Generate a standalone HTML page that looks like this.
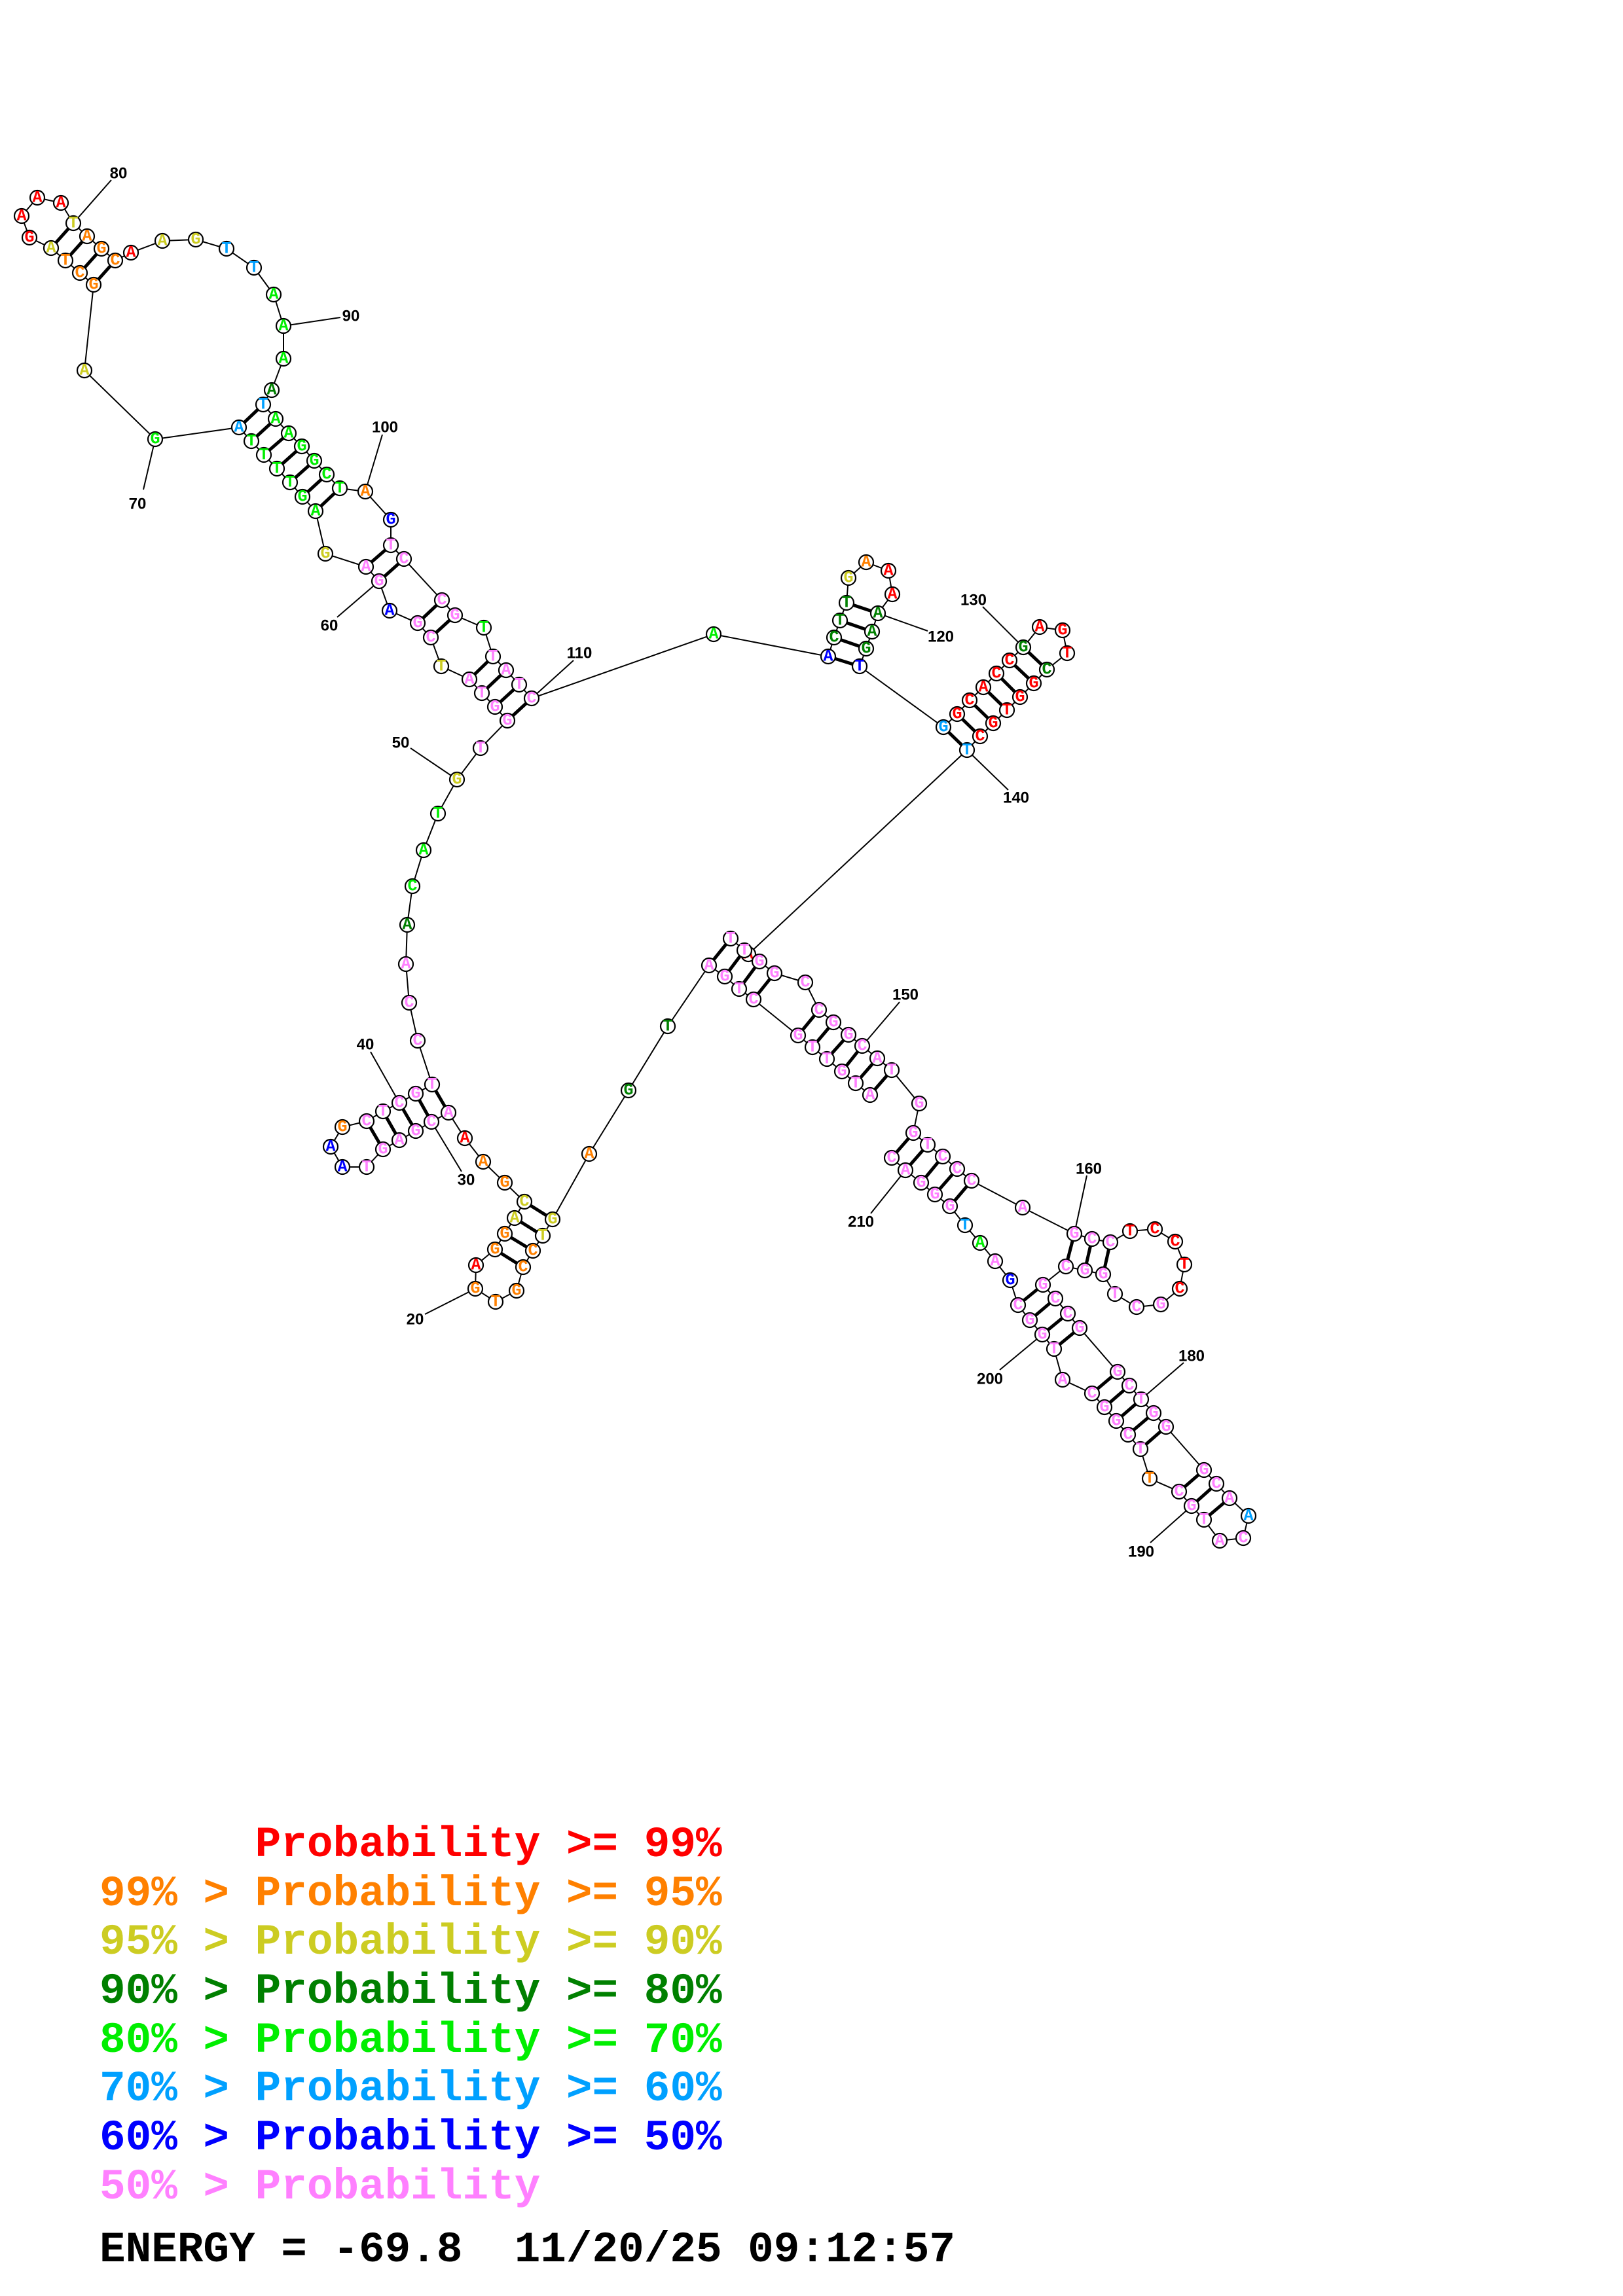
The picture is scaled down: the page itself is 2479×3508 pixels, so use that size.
<!DOCTYPE html>
<html><head><meta charset="utf-8"><style>
html,body{margin:0;padding:0;background:#fff}
svg{display:block}
.bb{fill:none;stroke:#000;stroke-width:2}
.pr line{stroke:#000;stroke-width:5}
.tk line{stroke:#000;stroke-width:2}
circle{fill:#fff;stroke:#000;stroke-width:2.2}
.n circle{r:11px}
.n text{font-family:"Liberation Mono",monospace;font-weight:bold;font-size:25px;text-anchor:middle;dominant-baseline:central}
.lb{font-family:"Liberation Sans",sans-serif;font-weight:bold;font-size:24px;text-anchor:middle;dominant-baseline:central;fill:#000}
.r{fill:#ff0000}.o{fill:#ff8000}.y{fill:#cccc22}.d{fill:#008000}.g{fill:#00ee00}.c{fill:#00a0ff}.b{fill:#0000ff}.p{fill:#ff80ff}
.lg text{font-family:"Liberation Mono",monospace;font-weight:bold;font-size:66px;white-space:pre}
</style></head><body>
<svg width="2479" height="3508" viewBox="0 0 2479 3508" xmlns="http://www.w3.org/2000/svg">
<polyline class="bb" points="1329,1673 1307,1655 1286,1637 1263,1618 1241,1600 1219,1582 1151,1527 1129,1511 1107,1492 1083,1475 1020,1568 960,1666 900,1763 844,1863 829,1888 814,1911 799,1936 789,1972 757,1989 726,1969 727,1933 756,1909 771,1885 786,1861 801,1836 771,1807 738,1775 710,1739 685,1700 659,1714 635,1728 610,1742 585,1756 560,1783 523,1783 505,1752 523,1722 560,1713 585,1698 610,1685 635,1671 660,1657 638,1590 625,1532 620,1473 622,1413 630,1354 647,1299 669,1243 698,1191 734,1143 775,1101 756,1080 736,1059 717,1038 674,1018 658,974 638,952 595,933 579,888 559,866 497,846 482,781 462,759 443,737 423,716 403,695 384,674 365,653 237,671 129,566 143,435 122,417 100,398 78,379 45,363 33,330 57,302 93,310 112,341 133,361 155,380 176,398 200,386 248,368 299,366 346,380 388,409 418,450 433,498 433,548 415,596 402,618 421,640 441,662 461,682 480,704 499,725 519,746 558,751 597,794 597,833 617,854 675,917 695,940 739,959 753,1003 773,1024 793,1046 812,1067 1090,969 1265,1003 1274,974 1283,948 1293,921 1296,883 1323,859 1357,872 1363,908 1341,937 1332,965 1323,991 1313,1018 1441,1111 1462,1091 1481,1070 1502,1050 1522,1029 1542,1009 1563,989 1588,958 1623,963 1630,998 1599,1023 1579,1044 1558,1065 1538,1085 1517,1105 1497,1125 1477,1146 1143,1458 1160,1469 1183,1487 1230,1501 1251,1543 1273,1562 1296,1581 1317,1598 1340,1617 1362,1635 1404,1686 1395,1731 1417,1749 1440,1767 1462,1786 1484,1804 1562,1845 1641,1885 1668,1893 1696,1898 1726,1881 1764,1878 1795,1897 1809,1932 1802,1969 1773,1993 1736,1997 1703,1977 1685,1947 1657,1941 1628,1935 1593,1963 1612,1984 1631,2007 1649,2029 1707,2096 1725,2117 1743,2138 1762,2159 1781,2180 1839,2246 1858,2267 1878,2289 1907,2316 1899,2350 1863,2354 1839,2322 1820,2301 1801,2279 1756,2259 1742,2214 1723,2192 1705,2171 1687,2150 1668,2129 1623,2108 1610,2061 1592,2039 1573,2017 1555,1994 1543,1956 1520,1927 1497,1899 1474,1872 1451,1843 1428,1825 1407,1807 1383,1788 1362,1769"/>
<polyline class="bb" points="1116,1434 1137,1452 1160,1469"/>
<g class="pr">
<line x1="1116" y1="1434" x2="1083" y2="1475"/><line x1="1137" y1="1452" x2="1107" y2="1492"/><line x1="1160" y1="1469" x2="1129" y2="1511"/><line x1="1183" y1="1487" x2="1151" y2="1527"/>
<line x1="1251" y1="1543" x2="1219" y2="1582"/><line x1="1273" y1="1562" x2="1241" y2="1600"/><line x1="1296" y1="1581" x2="1263" y2="1618"/><line x1="1317" y1="1598" x2="1286" y2="1637"/><line x1="1340" y1="1617" x2="1307" y2="1655"/><line x1="1362" y1="1635" x2="1329" y2="1673"/>
<line x1="1395" y1="1731" x2="1362" y2="1769"/><line x1="1417" y1="1749" x2="1383" y2="1788"/><line x1="1440" y1="1767" x2="1407" y2="1807"/><line x1="1462" y1="1786" x2="1428" y2="1825"/><line x1="1484" y1="1804" x2="1451" y2="1843"/>
<line x1="1641" y1="1885" x2="1628" y2="1935"/><line x1="1668" y1="1893" x2="1657" y2="1941"/><line x1="1696" y1="1898" x2="1685" y2="1947"/>
<line x1="1593" y1="1963" x2="1555" y2="1994"/><line x1="1612" y1="1984" x2="1573" y2="2017"/><line x1="1631" y1="2007" x2="1592" y2="2039"/><line x1="1649" y1="2029" x2="1610" y2="2061"/>
<line x1="1707" y1="2096" x2="1668" y2="2129"/><line x1="1725" y1="2117" x2="1687" y2="2150"/><line x1="1743" y1="2138" x2="1705" y2="2171"/><line x1="1762" y1="2159" x2="1723" y2="2192"/><line x1="1781" y1="2180" x2="1742" y2="2214"/>
<line x1="1839" y1="2246" x2="1801" y2="2279"/><line x1="1858" y1="2267" x2="1820" y2="2301"/><line x1="1878" y1="2289" x2="1839" y2="2322"/>
<line x1="660" y1="1657" x2="685" y2="1700"/><line x1="635" y1="1671" x2="659" y2="1714"/><line x1="610" y1="1685" x2="635" y2="1728"/><line x1="585" y1="1698" x2="610" y2="1742"/><line x1="560" y1="1713" x2="585" y2="1756"/>
<line x1="801" y1="1836" x2="844" y2="1863"/><line x1="786" y1="1861" x2="829" y2="1888"/><line x1="771" y1="1885" x2="814" y2="1911"/><line x1="756" y1="1909" x2="799" y2="1936"/>
<line x1="753" y1="1003" x2="717" y2="1038"/><line x1="773" y1="1024" x2="736" y2="1059"/><line x1="793" y1="1046" x2="756" y2="1080"/><line x1="812" y1="1067" x2="775" y2="1101"/>
<line x1="675" y1="917" x2="638" y2="952"/><line x1="695" y1="940" x2="658" y2="974"/>
<line x1="597" y1="833" x2="559" y2="866"/><line x1="617" y1="854" x2="579" y2="888"/>
<line x1="421" y1="640" x2="384" y2="674"/><line x1="441" y1="662" x2="403" y2="695"/><line x1="461" y1="682" x2="423" y2="716"/><line x1="480" y1="704" x2="443" y2="737"/><line x1="499" y1="725" x2="462" y2="759"/><line x1="519" y1="746" x2="482" y2="781"/>
<line x1="402" y1="618" x2="365" y2="653"/>
<line x1="78" y1="379" x2="112" y2="341"/><line x1="100" y1="398" x2="133" y2="361"/><line x1="122" y1="417" x2="155" y2="380"/><line x1="143" y1="435" x2="176" y2="398"/>
<line x1="1265" y1="1003" x2="1313" y2="1018"/><line x1="1274" y1="974" x2="1323" y2="991"/><line x1="1283" y1="948" x2="1332" y2="965"/><line x1="1293" y1="921" x2="1341" y2="937"/>
<line x1="1441" y1="1111" x2="1477" y2="1146"/><line x1="1462" y1="1091" x2="1497" y2="1125"/><line x1="1481" y1="1070" x2="1517" y2="1105"/><line x1="1502" y1="1050" x2="1538" y2="1085"/><line x1="1522" y1="1029" x2="1558" y2="1065"/><line x1="1542" y1="1009" x2="1579" y2="1044"/><line x1="1563" y1="989" x2="1599" y2="1023"/>
</g>
<g class="tk">
<line x1="112" y1="341" x2="170" y2="275"/><line x1="433" y1="498" x2="520" y2="485"/><line x1="558" y1="751" x2="584" y2="664"/><line x1="237" y1="671" x2="219" y2="748"/>
<line x1="579" y1="888" x2="515" y2="943"/><line x1="812" y1="1067" x2="876" y2="1009"/><line x1="1341" y1="937" x2="1417" y2="964"/><line x1="1563" y1="989" x2="1501" y2="927"/>
<line x1="1477" y1="1146" x2="1540" y2="1207"/><line x1="1317" y1="1598" x2="1374" y2="1531"/><line x1="1641" y1="1885" x2="1660" y2="1796"/><line x1="1743" y1="2138" x2="1808" y2="2082"/>
<line x1="1820" y1="2301" x2="1757" y2="2357"/><line x1="1592" y1="2039" x2="1527" y2="2093"/><line x1="1383" y1="1788" x2="1330" y2="1854"/><line x1="610" y1="1685" x2="566" y2="1607"/>
<line x1="659" y1="1714" x2="705" y2="1790"/><line x1="726" y1="1969" x2="649" y2="2008"/><line x1="698" y1="1191" x2="627" y2="1143"/>
</g>
<text class="lb" x="181" y="265">80</text><text class="lb" x="536" y="483">90</text><text class="lb" x="588" y="653">100</text><text class="lb" x="210" y="770">70</text>
<text class="lb" x="503" y="956">60</text><text class="lb" x="885" y="998">110</text><text class="lb" x="1437" y="973">120</text><text class="lb" x="1487" y="917">130</text>
<text class="lb" x="1552" y="1219">140</text><text class="lb" x="1383" y="1520">150</text><text class="lb" x="1663" y="1786">160</text><text class="lb" x="1820" y="2072">180</text>
<text class="lb" x="1743" y="2371">190</text><text class="lb" x="1512" y="2107">200</text><text class="lb" x="1315" y="1867">210</text><text class="lb" x="558" y="1596">40</text>
<text class="lb" x="712" y="1803">30</text><text class="lb" x="634" y="2016">20</text><text class="lb" x="612" y="1135">50</text>
<g class="n">
<circle cx="1143" cy="1458" r="11"/><text x="1143" y="1458" class="r">A</text>
<circle cx="1329" cy="1673" r="11"/><text x="1329" y="1673" class="p">A</text>
<circle cx="1307" cy="1655" r="11"/><text x="1307" y="1655" class="p">T</text>
<circle cx="1286" cy="1637" r="11"/><text x="1286" y="1637" class="p">G</text>
<circle cx="1263" cy="1618" r="11"/><text x="1263" y="1618" class="p">T</text>
<circle cx="1241" cy="1600" r="11"/><text x="1241" y="1600" class="p">T</text>
<circle cx="1219" cy="1582" r="11"/><text x="1219" y="1582" class="p">G</text>
<circle cx="1151" cy="1527" r="11"/><text x="1151" y="1527" class="p">C</text>
<circle cx="1129" cy="1511" r="11"/><text x="1129" y="1511" class="p">T</text>
<circle cx="1107" cy="1492" r="11"/><text x="1107" y="1492" class="p">G</text>
<circle cx="1083" cy="1475" r="11"/><text x="1083" y="1475" class="p">A</text>
<circle cx="1020" cy="1568" r="11"/><text x="1020" y="1568" class="d">T</text>
<circle cx="960" cy="1666" r="11"/><text x="960" y="1666" class="d">G</text>
<circle cx="900" cy="1763" r="11"/><text x="900" y="1763" class="o">A</text>
<circle cx="844" cy="1863" r="11"/><text x="844" y="1863" class="y">G</text>
<circle cx="829" cy="1888" r="11"/><text x="829" y="1888" class="y">T</text>
<circle cx="814" cy="1911" r="11"/><text x="814" y="1911" class="o">C</text>
<circle cx="799" cy="1936" r="11"/><text x="799" y="1936" class="o">C</text>
<circle cx="789" cy="1972" r="11"/><text x="789" y="1972" class="o">G</text>
<circle cx="757" cy="1989" r="11"/><text x="757" y="1989" class="o">T</text>
<circle cx="726" cy="1969" r="11"/><text x="726" y="1969" class="o">G</text>
<circle cx="727" cy="1933" r="11"/><text x="727" y="1933" class="r">A</text>
<circle cx="756" cy="1909" r="11"/><text x="756" y="1909" class="o">G</text>
<circle cx="771" cy="1885" r="11"/><text x="771" y="1885" class="o">G</text>
<circle cx="786" cy="1861" r="11"/><text x="786" y="1861" class="y">A</text>
<circle cx="801" cy="1836" r="11"/><text x="801" y="1836" class="y">C</text>
<circle cx="771" cy="1807" r="11"/><text x="771" y="1807" class="o">G</text>
<circle cx="738" cy="1775" r="11"/><text x="738" y="1775" class="o">A</text>
<circle cx="710" cy="1739" r="11"/><text x="710" y="1739" class="r">A</text>
<circle cx="685" cy="1700" r="11"/><text x="685" y="1700" class="p">A</text>
<circle cx="659" cy="1714" r="11"/><text x="659" y="1714" class="p">C</text>
<circle cx="635" cy="1728" r="11"/><text x="635" y="1728" class="p">G</text>
<circle cx="610" cy="1742" r="11"/><text x="610" y="1742" class="p">A</text>
<circle cx="585" cy="1756" r="11"/><text x="585" y="1756" class="p">G</text>
<circle cx="560" cy="1783" r="11"/><text x="560" y="1783" class="p">T</text>
<circle cx="523" cy="1783" r="11"/><text x="523" y="1783" class="b">A</text>
<circle cx="505" cy="1752" r="11"/><text x="505" y="1752" class="b">A</text>
<circle cx="523" cy="1722" r="11"/><text x="523" y="1722" class="o">G</text>
<circle cx="560" cy="1713" r="11"/><text x="560" y="1713" class="p">C</text>
<circle cx="585" cy="1698" r="11"/><text x="585" y="1698" class="p">T</text>
<circle cx="610" cy="1685" r="11"/><text x="610" y="1685" class="p">C</text>
<circle cx="635" cy="1671" r="11"/><text x="635" y="1671" class="p">G</text>
<circle cx="660" cy="1657" r="11"/><text x="660" y="1657" class="p">T</text>
<circle cx="638" cy="1590" r="11"/><text x="638" y="1590" class="p">C</text>
<circle cx="625" cy="1532" r="11"/><text x="625" y="1532" class="p">C</text>
<circle cx="620" cy="1473" r="11"/><text x="620" y="1473" class="p">A</text>
<circle cx="622" cy="1413" r="11"/><text x="622" y="1413" class="d">A</text>
<circle cx="630" cy="1354" r="11"/><text x="630" y="1354" class="g">C</text>
<circle cx="647" cy="1299" r="11"/><text x="647" y="1299" class="g">A</text>
<circle cx="669" cy="1243" r="11"/><text x="669" y="1243" class="g">T</text>
<circle cx="698" cy="1191" r="11"/><text x="698" y="1191" class="y">G</text>
<circle cx="734" cy="1143" r="11"/><text x="734" y="1143" class="p">T</text>
<circle cx="775" cy="1101" r="11"/><text x="775" y="1101" class="p">G</text>
<circle cx="756" cy="1080" r="11"/><text x="756" y="1080" class="p">G</text>
<circle cx="736" cy="1059" r="11"/><text x="736" y="1059" class="p">T</text>
<circle cx="717" cy="1038" r="11"/><text x="717" y="1038" class="p">A</text>
<circle cx="674" cy="1018" r="11"/><text x="674" y="1018" class="y">T</text>
<circle cx="658" cy="974" r="11"/><text x="658" y="974" class="p">C</text>
<circle cx="638" cy="952" r="11"/><text x="638" y="952" class="p">G</text>
<circle cx="595" cy="933" r="11"/><text x="595" y="933" class="b">A</text>
<circle cx="579" cy="888" r="11"/><text x="579" y="888" class="p">G</text>
<circle cx="559" cy="866" r="11"/><text x="559" y="866" class="p">A</text>
<circle cx="497" cy="846" r="11"/><text x="497" y="846" class="y">G</text>
<circle cx="482" cy="781" r="11"/><text x="482" y="781" class="g">A</text>
<circle cx="462" cy="759" r="11"/><text x="462" y="759" class="g">G</text>
<circle cx="443" cy="737" r="11"/><text x="443" y="737" class="g">T</text>
<circle cx="423" cy="716" r="11"/><text x="423" y="716" class="g">T</text>
<circle cx="403" cy="695" r="11"/><text x="403" y="695" class="g">T</text>
<circle cx="384" cy="674" r="11"/><text x="384" y="674" class="g">T</text>
<circle cx="365" cy="653" r="11"/><text x="365" y="653" class="c">A</text>
<circle cx="237" cy="671" r="11"/><text x="237" y="671" class="g">G</text>
<circle cx="129" cy="566" r="11"/><text x="129" y="566" class="y">A</text>
<circle cx="143" cy="435" r="11"/><text x="143" y="435" class="o">G</text>
<circle cx="122" cy="417" r="11"/><text x="122" y="417" class="o">C</text>
<circle cx="100" cy="398" r="11"/><text x="100" y="398" class="o">T</text>
<circle cx="78" cy="379" r="11"/><text x="78" y="379" class="y">A</text>
<circle cx="45" cy="363" r="11"/><text x="45" y="363" class="r">G</text>
<circle cx="33" cy="330" r="11"/><text x="33" y="330" class="r">A</text>
<circle cx="57" cy="302" r="11"/><text x="57" y="302" class="r">A</text>
<circle cx="93" cy="310" r="11"/><text x="93" y="310" class="r">A</text>
<circle cx="112" cy="341" r="11"/><text x="112" y="341" class="y">T</text>
<circle cx="133" cy="361" r="11"/><text x="133" y="361" class="o">A</text>
<circle cx="155" cy="380" r="11"/><text x="155" y="380" class="o">G</text>
<circle cx="176" cy="398" r="11"/><text x="176" y="398" class="o">C</text>
<circle cx="200" cy="386" r="11"/><text x="200" y="386" class="r">A</text>
<circle cx="248" cy="368" r="11"/><text x="248" y="368" class="y">A</text>
<circle cx="299" cy="366" r="11"/><text x="299" y="366" class="y">G</text>
<circle cx="346" cy="380" r="11"/><text x="346" y="380" class="c">T</text>
<circle cx="388" cy="409" r="11"/><text x="388" y="409" class="c">T</text>
<circle cx="418" cy="450" r="11"/><text x="418" y="450" class="g">A</text>
<circle cx="433" cy="498" r="11"/><text x="433" y="498" class="g">A</text>
<circle cx="433" cy="548" r="11"/><text x="433" y="548" class="g">A</text>
<circle cx="415" cy="596" r="11"/><text x="415" y="596" class="d">A</text>
<circle cx="402" cy="618" r="11"/><text x="402" y="618" class="c">T</text>
<circle cx="421" cy="640" r="11"/><text x="421" y="640" class="g">A</text>
<circle cx="441" cy="662" r="11"/><text x="441" y="662" class="g">A</text>
<circle cx="461" cy="682" r="11"/><text x="461" y="682" class="g">G</text>
<circle cx="480" cy="704" r="11"/><text x="480" y="704" class="g">G</text>
<circle cx="499" cy="725" r="11"/><text x="499" y="725" class="g">C</text>
<circle cx="519" cy="746" r="11"/><text x="519" y="746" class="g">T</text>
<circle cx="558" cy="751" r="11"/><text x="558" y="751" class="o">A</text>
<circle cx="597" cy="794" r="11"/><text x="597" y="794" class="b">G</text>
<circle cx="597" cy="833" r="11"/><text x="597" y="833" class="p">T</text>
<circle cx="617" cy="854" r="11"/><text x="617" y="854" class="p">C</text>
<circle cx="675" cy="917" r="11"/><text x="675" y="917" class="p">C</text>
<circle cx="695" cy="940" r="11"/><text x="695" y="940" class="p">G</text>
<circle cx="739" cy="959" r="11"/><text x="739" y="959" class="g">T</text>
<circle cx="753" cy="1003" r="11"/><text x="753" y="1003" class="p">T</text>
<circle cx="773" cy="1024" r="11"/><text x="773" y="1024" class="p">A</text>
<circle cx="793" cy="1046" r="11"/><text x="793" y="1046" class="p">T</text>
<circle cx="812" cy="1067" r="11"/><text x="812" y="1067" class="p">C</text>
<circle cx="1090" cy="969" r="11"/><text x="1090" y="969" class="g">A</text>
<circle cx="1265" cy="1003" r="11"/><text x="1265" y="1003" class="b">A</text>
<circle cx="1274" cy="974" r="11"/><text x="1274" y="974" class="d">C</text>
<circle cx="1283" cy="948" r="11"/><text x="1283" y="948" class="d">T</text>
<circle cx="1293" cy="921" r="11"/><text x="1293" y="921" class="d">T</text>
<circle cx="1296" cy="883" r="11"/><text x="1296" y="883" class="y">G</text>
<circle cx="1323" cy="859" r="11"/><text x="1323" y="859" class="o">A</text>
<circle cx="1357" cy="872" r="11"/><text x="1357" y="872" class="r">A</text>
<circle cx="1363" cy="908" r="11"/><text x="1363" y="908" class="r">A</text>
<circle cx="1341" cy="937" r="11"/><text x="1341" y="937" class="d">A</text>
<circle cx="1332" cy="965" r="11"/><text x="1332" y="965" class="d">A</text>
<circle cx="1323" cy="991" r="11"/><text x="1323" y="991" class="d">G</text>
<circle cx="1313" cy="1018" r="11"/><text x="1313" y="1018" class="b">T</text>
<circle cx="1441" cy="1111" r="11"/><text x="1441" y="1111" class="c">G</text>
<circle cx="1462" cy="1091" r="11"/><text x="1462" y="1091" class="r">G</text>
<circle cx="1481" cy="1070" r="11"/><text x="1481" y="1070" class="r">C</text>
<circle cx="1502" cy="1050" r="11"/><text x="1502" y="1050" class="r">A</text>
<circle cx="1522" cy="1029" r="11"/><text x="1522" y="1029" class="r">C</text>
<circle cx="1542" cy="1009" r="11"/><text x="1542" y="1009" class="r">C</text>
<circle cx="1563" cy="989" r="11"/><text x="1563" y="989" class="d">G</text>
<circle cx="1588" cy="958" r="11"/><text x="1588" y="958" class="r">A</text>
<circle cx="1623" cy="963" r="11"/><text x="1623" y="963" class="r">G</text>
<circle cx="1630" cy="998" r="11"/><text x="1630" y="998" class="r">T</text>
<circle cx="1599" cy="1023" r="11"/><text x="1599" y="1023" class="d">C</text>
<circle cx="1579" cy="1044" r="11"/><text x="1579" y="1044" class="r">G</text>
<circle cx="1558" cy="1065" r="11"/><text x="1558" y="1065" class="r">G</text>
<circle cx="1538" cy="1085" r="11"/><text x="1538" y="1085" class="r">T</text>
<circle cx="1517" cy="1105" r="11"/><text x="1517" y="1105" class="r">G</text>
<circle cx="1497" cy="1125" r="11"/><text x="1497" y="1125" class="r">C</text>
<circle cx="1477" cy="1146" r="11"/><text x="1477" y="1146" class="c">T</text>
<circle cx="1116" cy="1434" r="11"/><text x="1116" y="1434" class="p">T</text>
<circle cx="1137" cy="1452" r="11"/><text x="1137" y="1452" class="p">T</text>
<circle cx="1160" cy="1469" r="11"/><text x="1160" y="1469" class="p">G</text>
<circle cx="1183" cy="1487" r="11"/><text x="1183" y="1487" class="p">G</text>
<circle cx="1230" cy="1501" r="11"/><text x="1230" y="1501" class="p">C</text>
<circle cx="1251" cy="1543" r="11"/><text x="1251" y="1543" class="p">C</text>
<circle cx="1273" cy="1562" r="11"/><text x="1273" y="1562" class="p">G</text>
<circle cx="1296" cy="1581" r="11"/><text x="1296" y="1581" class="p">G</text>
<circle cx="1317" cy="1598" r="11"/><text x="1317" y="1598" class="p">C</text>
<circle cx="1340" cy="1617" r="11"/><text x="1340" y="1617" class="p">A</text>
<circle cx="1362" cy="1635" r="11"/><text x="1362" y="1635" class="p">T</text>
<circle cx="1404" cy="1686" r="11"/><text x="1404" y="1686" class="p">G</text>
<circle cx="1395" cy="1731" r="11"/><text x="1395" y="1731" class="p">G</text>
<circle cx="1417" cy="1749" r="11"/><text x="1417" y="1749" class="p">T</text>
<circle cx="1440" cy="1767" r="11"/><text x="1440" y="1767" class="p">C</text>
<circle cx="1462" cy="1786" r="11"/><text x="1462" y="1786" class="p">C</text>
<circle cx="1484" cy="1804" r="11"/><text x="1484" y="1804" class="p">C</text>
<circle cx="1562" cy="1845" r="11"/><text x="1562" y="1845" class="p">A</text>
<circle cx="1641" cy="1885" r="11"/><text x="1641" y="1885" class="p">G</text>
<circle cx="1668" cy="1893" r="11"/><text x="1668" y="1893" class="p">C</text>
<circle cx="1696" cy="1898" r="11"/><text x="1696" y="1898" class="p">C</text>
<circle cx="1726" cy="1881" r="11"/><text x="1726" y="1881" class="r">T</text>
<circle cx="1764" cy="1878" r="11"/><text x="1764" y="1878" class="r">C</text>
<circle cx="1795" cy="1897" r="11"/><text x="1795" y="1897" class="r">C</text>
<circle cx="1809" cy="1932" r="11"/><text x="1809" y="1932" class="r">T</text>
<circle cx="1802" cy="1969" r="11"/><text x="1802" y="1969" class="r">C</text>
<circle cx="1773" cy="1993" r="11"/><text x="1773" y="1993" class="p">G</text>
<circle cx="1736" cy="1997" r="11"/><text x="1736" y="1997" class="p">C</text>
<circle cx="1703" cy="1977" r="11"/><text x="1703" y="1977" class="p">T</text>
<circle cx="1685" cy="1947" r="11"/><text x="1685" y="1947" class="p">G</text>
<circle cx="1657" cy="1941" r="11"/><text x="1657" y="1941" class="p">G</text>
<circle cx="1628" cy="1935" r="11"/><text x="1628" y="1935" class="p">C</text>
<circle cx="1593" cy="1963" r="11"/><text x="1593" y="1963" class="p">G</text>
<circle cx="1612" cy="1984" r="11"/><text x="1612" y="1984" class="p">C</text>
<circle cx="1631" cy="2007" r="11"/><text x="1631" y="2007" class="p">C</text>
<circle cx="1649" cy="2029" r="11"/><text x="1649" y="2029" class="p">G</text>
<circle cx="1707" cy="2096" r="11"/><text x="1707" y="2096" class="p">G</text>
<circle cx="1725" cy="2117" r="11"/><text x="1725" y="2117" class="p">C</text>
<circle cx="1743" cy="2138" r="11"/><text x="1743" y="2138" class="p">T</text>
<circle cx="1762" cy="2159" r="11"/><text x="1762" y="2159" class="p">G</text>
<circle cx="1781" cy="2180" r="11"/><text x="1781" y="2180" class="p">G</text>
<circle cx="1839" cy="2246" r="11"/><text x="1839" y="2246" class="p">G</text>
<circle cx="1858" cy="2267" r="11"/><text x="1858" y="2267" class="p">C</text>
<circle cx="1878" cy="2289" r="11"/><text x="1878" y="2289" class="p">A</text>
<circle cx="1907" cy="2316" r="11"/><text x="1907" y="2316" class="c">A</text>
<circle cx="1899" cy="2350" r="11"/><text x="1899" y="2350" class="p">C</text>
<circle cx="1863" cy="2354" r="11"/><text x="1863" y="2354" class="p">A</text>
<circle cx="1839" cy="2322" r="11"/><text x="1839" y="2322" class="p">T</text>
<circle cx="1820" cy="2301" r="11"/><text x="1820" y="2301" class="p">G</text>
<circle cx="1801" cy="2279" r="11"/><text x="1801" y="2279" class="p">C</text>
<circle cx="1756" cy="2259" r="11"/><text x="1756" y="2259" class="o">T</text>
<circle cx="1742" cy="2214" r="11"/><text x="1742" y="2214" class="p">T</text>
<circle cx="1723" cy="2192" r="11"/><text x="1723" y="2192" class="p">C</text>
<circle cx="1705" cy="2171" r="11"/><text x="1705" y="2171" class="p">G</text>
<circle cx="1687" cy="2150" r="11"/><text x="1687" y="2150" class="p">G</text>
<circle cx="1668" cy="2129" r="11"/><text x="1668" y="2129" class="p">C</text>
<circle cx="1623" cy="2108" r="11"/><text x="1623" y="2108" class="p">A</text>
<circle cx="1610" cy="2061" r="11"/><text x="1610" y="2061" class="p">T</text>
<circle cx="1592" cy="2039" r="11"/><text x="1592" y="2039" class="p">G</text>
<circle cx="1573" cy="2017" r="11"/><text x="1573" y="2017" class="p">G</text>
<circle cx="1555" cy="1994" r="11"/><text x="1555" y="1994" class="p">C</text>
<circle cx="1543" cy="1956" r="11"/><text x="1543" y="1956" class="b">G</text>
<circle cx="1520" cy="1927" r="11"/><text x="1520" y="1927" class="p">A</text>
<circle cx="1497" cy="1899" r="11"/><text x="1497" y="1899" class="g">A</text>
<circle cx="1474" cy="1872" r="11"/><text x="1474" y="1872" class="c">T</text>
<circle cx="1451" cy="1843" r="11"/><text x="1451" y="1843" class="p">G</text>
<circle cx="1428" cy="1825" r="11"/><text x="1428" y="1825" class="p">G</text>
<circle cx="1407" cy="1807" r="11"/><text x="1407" y="1807" class="p">G</text>
<circle cx="1383" cy="1788" r="11"/><text x="1383" y="1788" class="p">A</text>
<circle cx="1362" cy="1769" r="11"/><text x="1362" y="1769" class="p">C</text>
</g>
<g class="lg">
<text x="152" y="2836" class="r">      Probability &gt;= 99%</text>
<text x="152" y="2911" class="o">99% &gt; Probability &gt;= 95%</text>
<text x="152" y="2985" class="y">95% &gt; Probability &gt;= 90%</text>
<text x="152" y="3060" class="d">90% &gt; Probability &gt;= 80%</text>
<text x="152" y="3135" class="g">80% &gt; Probability &gt;= 70%</text>
<text x="152" y="3209" class="c">70% &gt; Probability &gt;= 60%</text>
<text x="152" y="3284" class="b">60% &gt; Probability &gt;= 50%</text>
<text x="152" y="3359" class="p">50% &gt; Probability</text>
<text x="152" y="3455" fill="#000">ENERGY = -69.8  11/20/25 09:12:57</text>
</g>
</svg>
</body></html>
